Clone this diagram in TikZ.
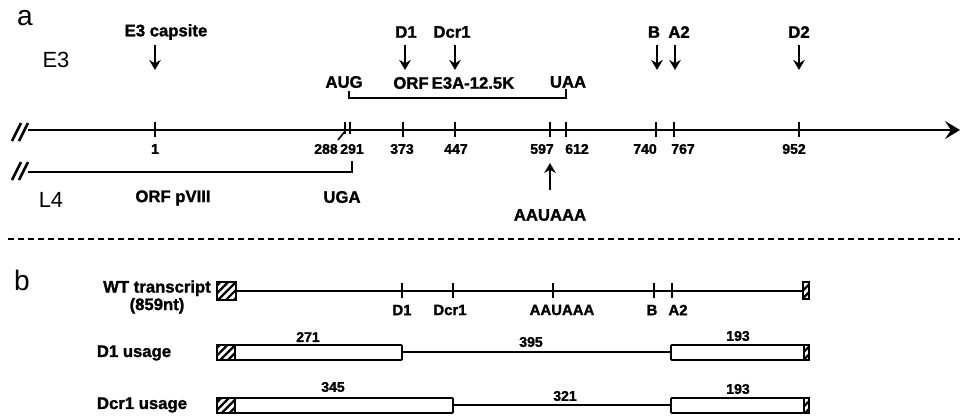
\documentclass[tikz,border=0pt]{standalone}
\usepackage{fontspec}
\setmainfont{Liberation Sans}[BoldFeatures={FakeBold=1.5}]
\usetikzlibrary{arrows.meta,positioning,patterns.meta}

\begin{document}
\begin{tikzpicture}[
    x=0.02cm, y=-0.02cm,
    lbl/.style={font=\fontsize{9.5}{10}\selectfont\bfseries, inner sep=0pt},
    num/.style={font=\fontsize{8}{9}\selectfont\bfseries, inner sep=0pt},
    big/.style={font=\fontsize{12.5}{13}\selectfont, inner sep=0pt},
    panel/.style={font=\fontsize{16}{17}\selectfont, inner sep=0pt, anchor=base},
    axis/.style={line width=1.5pt},
    tck/.style={line width=1pt},
    thinline/.style={line width=0.9pt},
    darr/.style={-{Stealth[length=2mm, width=2.3mm]}, line width=1.2pt},
    hatch/.style={draw, line width=1pt, pattern={Lines[angle=45, distance=1.1mm, line width=1.3pt]}},
    exon/.style={draw, line width=1pt, fill=white, rounded corners=0.5pt}
]
\useasboundingbox (0,0) rectangle (960,417);

% ---- panel a ----
\node[panel] (pa) at (25,25) {a};
\node[big] (e3) at (56,60) {E3};
\node[big] (l4) at (51,200) {L4};

% genome axis
\coordinate (axL) at (28,130);
\coordinate (axR) at (960,130);
\draw[axis, -{Stealth[length=3mm, width=3.6mm, inset=1.2mm]}] (axL) -- (axR);
\draw[axis] (12,141) -- (21,123) (19,141) -- (28,123);

\foreach \x/\t/\lx in {155/1/155, 403/373/402, 455/447/456, 550/597/542, 566/612/577,
                       656/740/645, 674/767/683, 799/952/794} {
  \draw[tck] (\x,122) -- (\x,137);
  \node[num] (n\t) at (\lx,149) {\t};
}
\draw[tck] (345,122) -- (345,134) (350,122) -- (350,134);
\node[num] (n288) at (326,149) {288};
\node[num] (n291) at (352,149) {291};
\draw[thinline] (338,140) -- (346,130);

% sites above the axis
\node[lbl] (cap) at (166,32) {E3 capsite};
\node[lbl] (d1) at (406,32) {D1};
\node[lbl] (dcr1) at (452,32) {Dcr1};
\node[lbl] (b) at (654,32) {B};
\node[lbl] (a2) at (679,32) {A2};
\node[lbl] (d2) at (799,32) {D2};
\coordinate (tcap) at (155,70);
\coordinate (td1) at (405,70);
\coordinate (tdcr1) at (455,70);
\coordinate (tb) at (657,70);
\coordinate (ta2) at (675,70);
\coordinate (td2) at (799,70);
\foreach \s in {cap, d1, dcr1, b, a2, d2}
  \draw[darr] (t\s |- 0,45) -- (t\s);

% ORF E3A-12.5K
\node[lbl] (aug) at (344,82) {AUG};
\node[lbl] (orf) at (411,83) {ORF};
\node[lbl] (e3a) at (473,83) {E3A-12.5K};
\node[lbl] (uaa) at (568,82) {UAA};
\draw[thinline] (349,91) -- (349,98) -- (566,98) -- (566,89);

% L4 ORF pVIII
\draw[axis, line width=1.2pt] (28,172) -- (352,172) -- (352,161);
\draw[axis] (12,180) -- (21,162) (19,180) -- (28,162);
\node[lbl] (pviii) at (173,198) {ORF pVIII};
\node[lbl] (uga) at (342,197) {UGA};

% polyA signal
\coordinate (tpa) at (550,163);
\draw[darr] (tpa |- 0,190) -- (tpa);
\node[lbl] (aauaaa) at (550,215) {AAUAAA};

\draw[line width=1.2pt, dash pattern=on 1.2mm off 0.8mm] (8,239) -- (960,239);

% ---- panel b ----
\node[panel] (pb) at (22,290) {b};

% WT transcript
\node[lbl, align=center] (wt) at (157,297) {WT transcript\\(859nt)};
\draw[hatch] (217,282) rectangle (236,300);
\draw[line width=1.1pt] (236,291) -- (803,291);
\draw[hatch] (803,282) rectangle (809,299);
\foreach \x/\t/\lx in {402/D1/402, 453/Dcr1/450, 553/AAUAAA/562, 654/B/652, 672/A2/678} {
  \draw[tck] (\x,283) -- (\x,298);
  \node[num, font=\fontsize{8.5}{9}\selectfont\bfseries] at (\lx,310) {\t};
}

% D1 usage
\node[lbl] (u1) at (134,353) {D1 usage};
\draw[exon] (217,345) rectangle (402,360);
\draw[hatch] (217,345) rectangle (235,360);
\draw[line width=1.1pt] (402,352) -- (671,352);
\draw[exon] (671,345) rectangle (809,360);
\draw[hatch] (804,345) rectangle (809,360);
\node[num] (l271) at (308,337) {271};
\node[num] (l395) at (531,342) {395};
\node[num] (l193a) at (738,336) {193};

% Dcr1 usage
\node[lbl] (u2) at (142,405) {Dcr1 usage};
\draw[exon] (217,398) rectangle (453,413);
\draw[hatch] (217,398) rectangle (235,413);
\draw[line width=1.1pt] (453,405) -- (671,405);
\draw[exon] (671,398) rectangle (809,413);
\draw[hatch] (804,398) rectangle (809,413);
\node[num] (l345) at (333,387) {345};
\node[num] (l321) at (565,396) {321};
\node[num] (l193b) at (738,389) {193};
\end{tikzpicture}
\end{document}
